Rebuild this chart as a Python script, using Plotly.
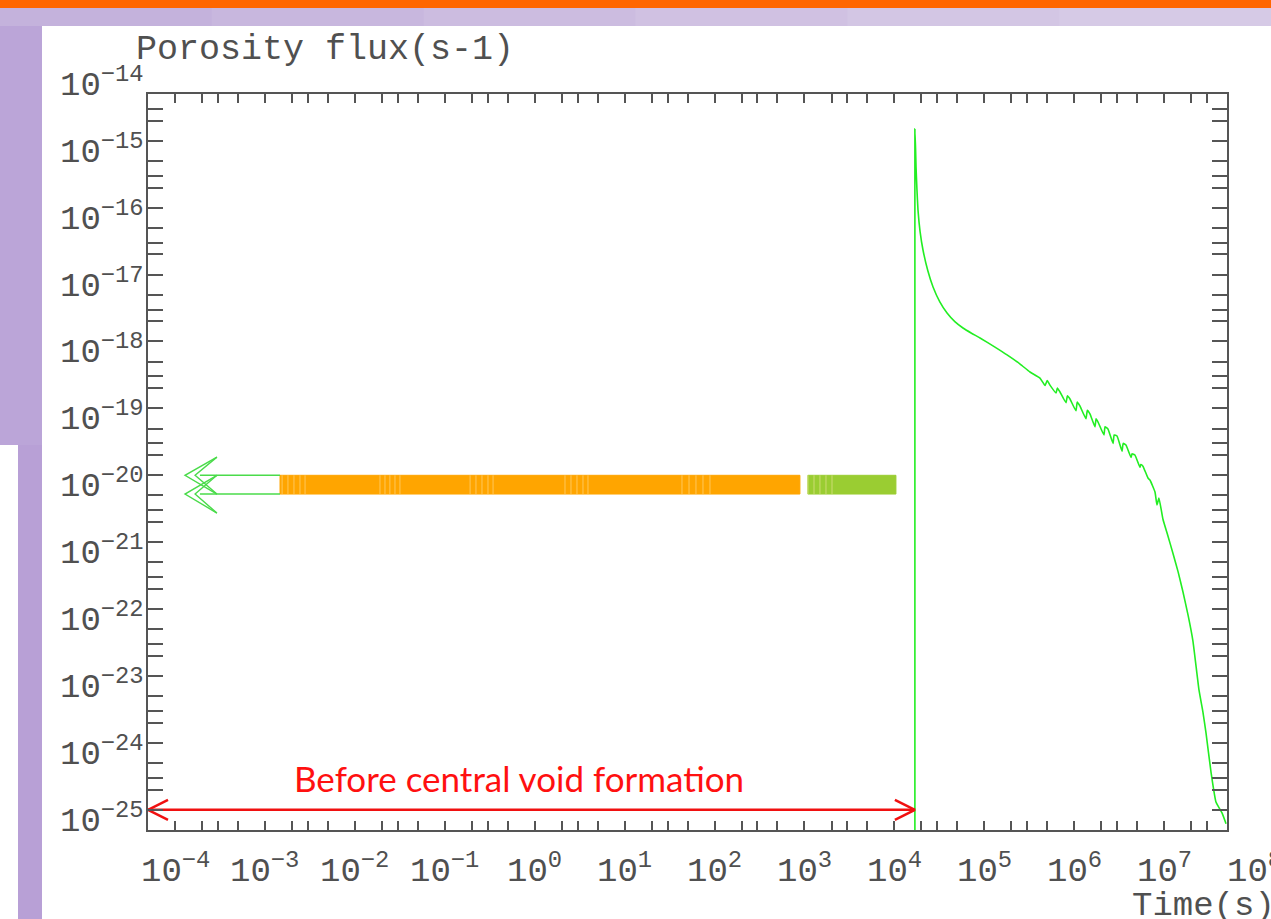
import math
import plotly.graph_objects as go

# ---------------- data ----------------
time_s = [1.69e4, 1.69e4, 1.72e4, 1.74e4, 1.78e4, 1.83e4, 1.93e4, 2.08e4, 2.35e4, 2.69e4,
          3.2e4, 3.85e4, 4.7e4, 5.79e4, 7.2e4, 8.95e4, 1.3e5,
          1.79e5, 2.5e5, 3.22e5, 4.16e5, 4.73e5, 5.0e5, 5.37e5, 6.27e5, 6.5e5, 6.94e5, 8.09e5,
          8.4e5, 8.97e5, 1.045e6, 1.08e6, 1.16e6, 1.35e6, 1.40e6, 1.50e6, 1.70e6, 1.75e6,
          1.84e6, 2.14e6, 2.20e6, 2.37e6, 2.70e6, 2.78e6, 2.99e6, 3.40e6, 3.50e6, 3.76e6,
          4.28e6, 4.40e6, 4.73e6, 5.38e6, 5.50e6, 5.81e6, 6.61e6, 6.95e6,
          7.91e6, 8.32e6, 8.75e6, 9.70e6, 1.1e7, 1.25e7, 1.43e7, 1.62e7, 1.85e7, 2.09e7,
          2.44e7, 2.7e7, 2.92e7, 3.32e7, 3.77e7, 4.40e7, 4.88e7]
flux = [1e-26, 1.5e-15, 7.5e-16, 4.06e-16, 1.9e-16, 9.2e-17, 4.4e-17, 2.33e-17, 1.15e-17, 6.52e-18,
        3.9e-18, 2.66e-18, 1.98e-18, 1.59e-18, 1.33e-18, 1.13e-18, 8.3e-19,
        6.3e-19, 4.6e-19, 3.50e-19, 2.84e-19, 2.2e-19, 2.6e-19, 2.23e-19, 1.7e-19, 2.02e-19, 1.76e-19, 1.22e-19,
        1.55e-19, 1.38e-19, 9.2e-20, 1.25e-19, 1.08e-19, 7.0e-20, 9.4e-20, 8.2e-20, 5.3e-20, 7.0e-20,
        6.25e-20, 4.0e-20, 5.3e-20, 4.92e-20, 3.0e-20, 4.0e-20, 3.86e-20, 2.3e-20, 3.0e-20, 2.83e-20,
        1.85e-20, 2.1e-20, 2.01e-20, 1.32e-20, 1.45e-20, 1.37e-20, 9.1e-21, 8.5e-21,
        5.62e-21, 3.6e-21, 4.57e-21, 2.2e-21, 1.25e-21, 6.9e-22, 3.6e-22, 1.8e-22, 8.0e-23, 3.33e-23,
        6.2e-24, 2.9e-24, 1.41e-24, 3.67e-25, 1.31e-25, 9.0e-26, 6.2e-26]

bar_start = [1.47e-3, 1.09e3]
bar_end = [8.9e2, 1.04e4]
bar_colors = ["#FFA500", "#9ACD32"]
bar_low, bar_high = 5.25e-21, 1.0e-20

stripe_times = [1.55e-3, 1.80e-3, 2.10e-3, 2.45e-3, 2.79e-3,
                0.0190, 0.0216, 0.0245, 0.0279, 0.0317,
                0.191, 0.222, 0.259, 0.302, 0.344,
                2.17, 2.53, 2.95, 3.44, 3.91,
                43.4, 52.0, 62.1, 74.3, 88.9,
                1094, 1276, 1486, 1734, 2023]

tail_start = 1.89e-4
chevron_tips = [1.29e-4, 1.67e-4]
chevron_back = 2.92e-4
chevron_levels = [1.87e-20, 1.0e-20, 5.25e-21, 2.73e-21]

void_start, void_end, void_level = 5e-5, 1.69e4, 1e-25
void_text = "Before central void formation"

x_decades = list(range(-4, 9))
y_decades = list(range(-25, -13))

X_RANGE = [5e-5, 5e7]
Y_RANGE = [5e-26, 5e-15]

# ---------------- layout geometry ----------------
W, H = 1271, 919
ML, MR, MT, MB = 148, 44, 94, 89
PW, PH = W - ML - MR, H - MT - MB

def px_x(p):
    return (p - ML) / PW

def px_y(p):
    return (H - MB - p) / PH

XMIN, XMAX = math.log10(X_RANGE[0]), math.log10(X_RANGE[1])
YMIN, YMAX = math.log10(Y_RANGE[0]), math.log10(Y_RANGE[1])

fig = go.Figure()

# bars
for s, e, c in zip(bar_start, bar_end, bar_colors):
    fig.add_trace(go.Scatter(x=[s, e, e, s, s], y=[bar_low, bar_low, bar_high, bar_high, bar_low],
                             mode="lines", fill="toself", fillcolor=c,
                             line=dict(color=c, width=1), hoverinfo="skip", showlegend=False))

# faint stripes inside bars
sx, sy = [], []
for t in stripe_times:
    sx += [t, t, None]
    sy += [bar_low, bar_high, None]
fig.add_trace(go.Scatter(x=sx, y=sy, mode="lines",
                         line=dict(color="rgba(255,236,180,0.5)", width=1),
                         hoverinfo="skip", showlegend=False))

# green outlined arrow on the left
gx, gy = [], []
for lvl in (bar_high, bar_low):
    gx += [tail_start, bar_start[0], None]
    gy += [lvl, lvl, None]
for tip in chevron_tips:
    for k in range(2):
        gx += [chevron_back, tip, chevron_back, None]
        gy += [chevron_levels[k], chevron_levels[k + 1], chevron_levels[k + 2], None]
fig.add_trace(go.Scatter(x=gx, y=gy, mode="lines",
                         line=dict(color="#4ADB4A", width=1.4),
                         hoverinfo="skip", showlegend=False))

# main curve
fig.add_trace(go.Scatter(x=time_s, y=flux, mode="lines",
                         line=dict(color="#22EE22", width=1.6, shape="spline", smoothing=0.4),
                         hoverinfo="skip", showlegend=False))

# red double arrow
fx, fy = 10 ** (20 / PW * (XMAX - XMIN)), 10 ** (10 / PH * (YMAX - YMIN))
rx = [void_start, void_end, None,
      void_start * fx, void_start, void_start * fx, None,
      void_end / fx, void_end, void_end / fx]
ry = [void_level, void_level, None,
      void_level * fy, void_level, void_level / fy, None,
      void_level * fy, void_level, void_level / fy]
fig.add_trace(go.Scatter(x=rx, y=ry, mode="lines", line=dict(color="#F01010", width=2.5),
                         hoverinfo="skip", showlegend=False, cliponaxis=False))

# ---------------- axes ----------------
def log_ticks(lo, hi):
    vals = []
    for n in range(int(math.floor(math.log10(lo))) - 1, int(math.ceil(math.log10(hi))) + 1):
        for m in (1, 2, 3, 5):
            v = m * 10.0 ** n
            if lo * 0.999 <= v <= hi * 1.001:
                vals.append(v)
    return vals

axis_common = dict(type="log", showgrid=False, zeroline=False, showline=True,
                   linecolor="#555555", linewidth=2, mirror="allticks",
                   ticks="inside", tickcolor="#555555", tickwidth=1.5,
                   showticklabels=False, tickmode="array")
fig.update_xaxes(range=[XMIN, XMAX], tickvals=log_ticks(*X_RANGE), ticklen=9, **axis_common)
fig.update_yaxes(range=[YMIN, YMAX], tickvals=log_ticks(*Y_RANGE), ticklen=15, **axis_common)

lab_font = dict(family="Liberation Mono, Courier New, monospace", size=34, color="#505050")
annotations = []
for n in x_decades:
    annotations.append(dict(x=(n - XMIN) / (XMAX - XMIN), y=px_y(845), xref="paper", yref="paper",
                            text=f"10<sup>{n}</sup>".replace("-", "\u2212"), showarrow=False,
                            xanchor="center", yanchor="top", font=lab_font))
for n in y_decades:
    annotations.append(dict(x=px_x(146), y=(n - YMIN) / (YMAX - YMIN), xref="paper", yref="paper",
                            text=f"10<sup>{n}</sup>".replace("-", "\u2212"), showarrow=False,
                            xanchor="right", yanchor="middle", yshift=-9, font=lab_font))
annotations.append(dict(x=px_x(134), y=px_y(50), xref="paper", yref="paper",
                        text="Porosity flux(s-1)", showarrow=False, xanchor="left",
                        yanchor="middle", font=dict(lab_font, size=35)))
annotations.append(dict(x=px_x(1130), y=px_y(906), xref="paper", yref="paper",
                        text="Time(s)", showarrow=False, xanchor="left",
                        yanchor="middle", font=lab_font))
annotations.append(dict(x=math.log10(0.67), y=-24.525, xref="x", yref="y", text=void_text,
                        showarrow=False, xanchor="center", yanchor="middle",
                        font=dict(family="Lato, Open Sans, sans-serif", size=35, color="#FF1010")))

# ---------------- slide background ----------------
def rect(x0, y0, x1, y1, color):
    return dict(type="rect", xref="paper", yref="paper", x0=px_x(x0), x1=px_x(x1),
                y0=px_y(y1), y1=px_y(y0), fillcolor=color, line=dict(width=0), layer="below")

shapes = [rect(0, 0, W, 8, "#FF6600")]
band_cols = ["#C4B2DC", "#C8B7DE", "#CCBCE0", "#D0C1E2", "#D3C6E4", "#D6CAE6"]
step = W / len(band_cols)
for i, c in enumerate(band_cols):
    shapes.append(rect(i * step, 8, (i + 1) * step + 1, 26, c))
shapes.append(rect(0, 26, 42, 445, "#BBA5D8"))
shapes.append(rect(18, 445, 42, H, "#B8A0D6"))

fig.update_layout(width=W, height=H, margin=dict(l=ML, r=MR, t=MT, b=MB),
                  paper_bgcolor="white", plot_bgcolor="white",
                  annotations=annotations, shapes=shapes, showlegend=False)

fig.write_html("out.html", config={"displayModeBar": False},
               post_script="document.body.style.margin='0';document.body.style.overflow='hidden';")
